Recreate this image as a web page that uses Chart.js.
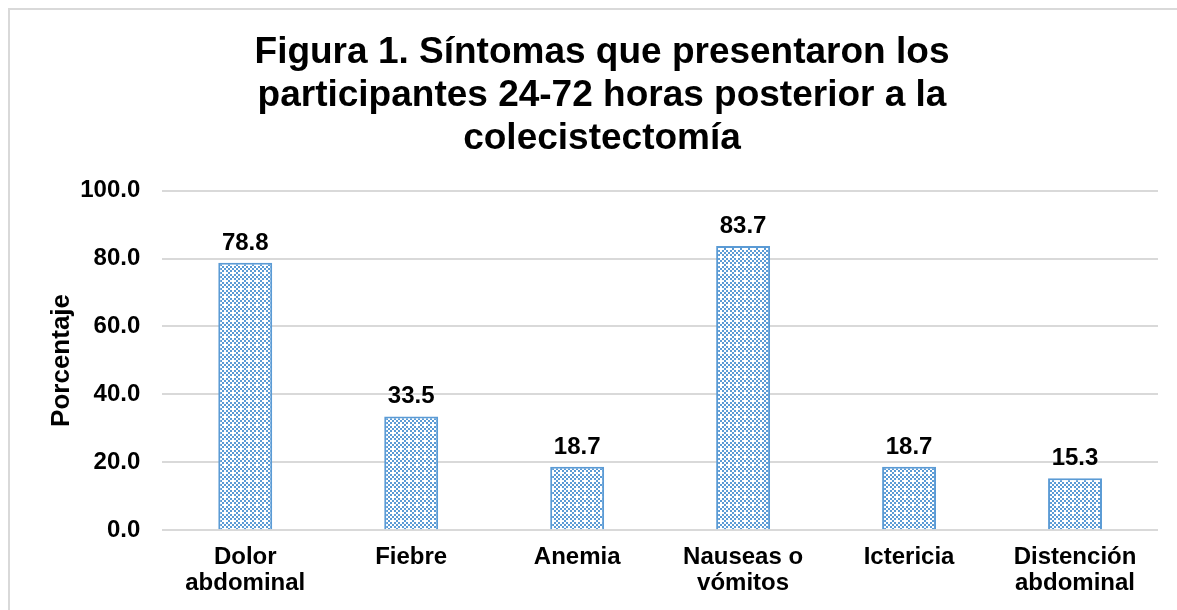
<!DOCTYPE html>
<html>
<head>
<meta charset="utf-8">
<script src="https://cdn.jsdelivr.net/npm/chart.js@4"></script>
<style>
  html, body { margin: 0; padding: 0; background: #fff; overflow: hidden; }
  #marco {
    position: absolute; left: 8px; top: 8px; width: 1200px; height: 620px;
    border: 2px solid #d9d9d9; box-sizing: border-box;
  }
  #wrap { position: absolute; left: 0; top: 0; width: 1196px; height: 610px; }
</style>
</head>
<body>
<div id="marco"></div>
<div id="wrap"><canvas id="grafico"></canvas></div>
<script>
'use strict';

// datos
const categorias = [
  ['Dolor', 'abdominal'],
  'Fiebre',
  'Anemia',
  ['Nauseas o', 'vómitos'],
  'Ictericia',
  ['Distención', 'abdominal']
];
const porcentajes = [78.8, 33.5, 18.7, 83.7, 18.7, 15.3];
const ticksY = [0, 20, 40, 60, 80, 100];

const AZUL = '#5b9bd5';
const FUENTE = "'Liberation Sans', Arial, sans-serif";

function crearPatron() {
  const c = document.createElement('canvas');
  c.width = 8;
  c.height = 8;
  const ctx = c.getContext('2d');
  ctx.fillStyle = '#fff';
  ctx.fillRect(0, 0, 8, 8);
  ctx.fillStyle = AZUL;
  for (let y = 0; y < 8; y += 2) {
    for (let x = 0; x < 8; x += 2) {
      if (((x + y) / 2) % 2 === 0) ctx.fillRect(x, y, 2, 2);
    }
  }
  // punto blanco
  ctx.fillStyle = '#fff';
  ctx.fillRect(0, 0, 2, 2);
  return ctx.createPattern(c, 'repeat');
}

const etiquetasDatos = {
  id: 'etiquetasDatos',
  afterDatasetsDraw(chart) {
    const ctx = chart.ctx;
    const meta = chart.getDatasetMeta(0);
    ctx.save();
    ctx.font = 'bold 24px ' + FUENTE;
    ctx.fillStyle = '#000';
    ctx.textAlign = 'center';
    ctx.textBaseline = 'alphabetic';
    meta.data.forEach(function (bar, i) {
      ctx.fillText(porcentajes[i].toFixed(1), bar.x, bar.y - 13);
    });
    ctx.restore();
  }
};

new Chart(document.getElementById('grafico').getContext('2d'), {
  type: 'bar',
  data: {
    labels: categorias,
    datasets: [{
      data: porcentajes,
      backgroundColor: crearPatron(),
      borderColor: AZUL,
      borderWidth: 2,
      barPercentage: 0.325,
      categoryPercentage: 1
    }]
  },
  options: {
    responsive: true,
    maintainAspectRatio: false,
    animation: false,
    layout: { padding: { left: 46, right: 38, top: 32, bottom: 7 } },
    plugins: {
      legend: { display: false },
      tooltip: { enabled: false },
      title: {
        display: true,
        text: [
          'Figura 1. Síntomas que presentaron los',
          'participantes 24-72 horas posterior a la',
          'colecistectomía'
        ],
        color: '#000',
        font: { family: FUENTE, size: 37, weight: 'bold', lineHeight: 1.15 },
        padding: { top: 0, bottom: 31 }
      }
    },
    scales: {
      x: {
        grid: { display: false },
        border: { display: false },
        ticks: {
          color: '#000',
          font: { family: FUENTE, size: 24, weight: 'bold', lineHeight: 1.1 },
          maxRotation: 0,
          padding: 6
        }
      },
      y: {
        min: 0,
        max: 100,
        afterBuildTicks: function (axis) {
          axis.ticks = ticksY.map(function (v) { return { value: v }; });
        },
        grid: { color: '#d9d9d9', lineWidth: 2, drawTicks: false },
        border: { display: false },
        ticks: {
          color: '#000',
          font: { family: FUENTE, size: 24, weight: 'bold' },
          padding: 22,
          callback: function (v) { return Number(v).toFixed(1); }
        },
        title: {
          display: true,
          text: 'Porcentaje',
          color: '#000',
          font: { family: FUENTE, size: 26, weight: 'bold' },
          padding: { top: 0, bottom: -19 }
        }
      }
    }
  },
  plugins: [etiquetasDatos]
});
</script>
</body>
</html>
